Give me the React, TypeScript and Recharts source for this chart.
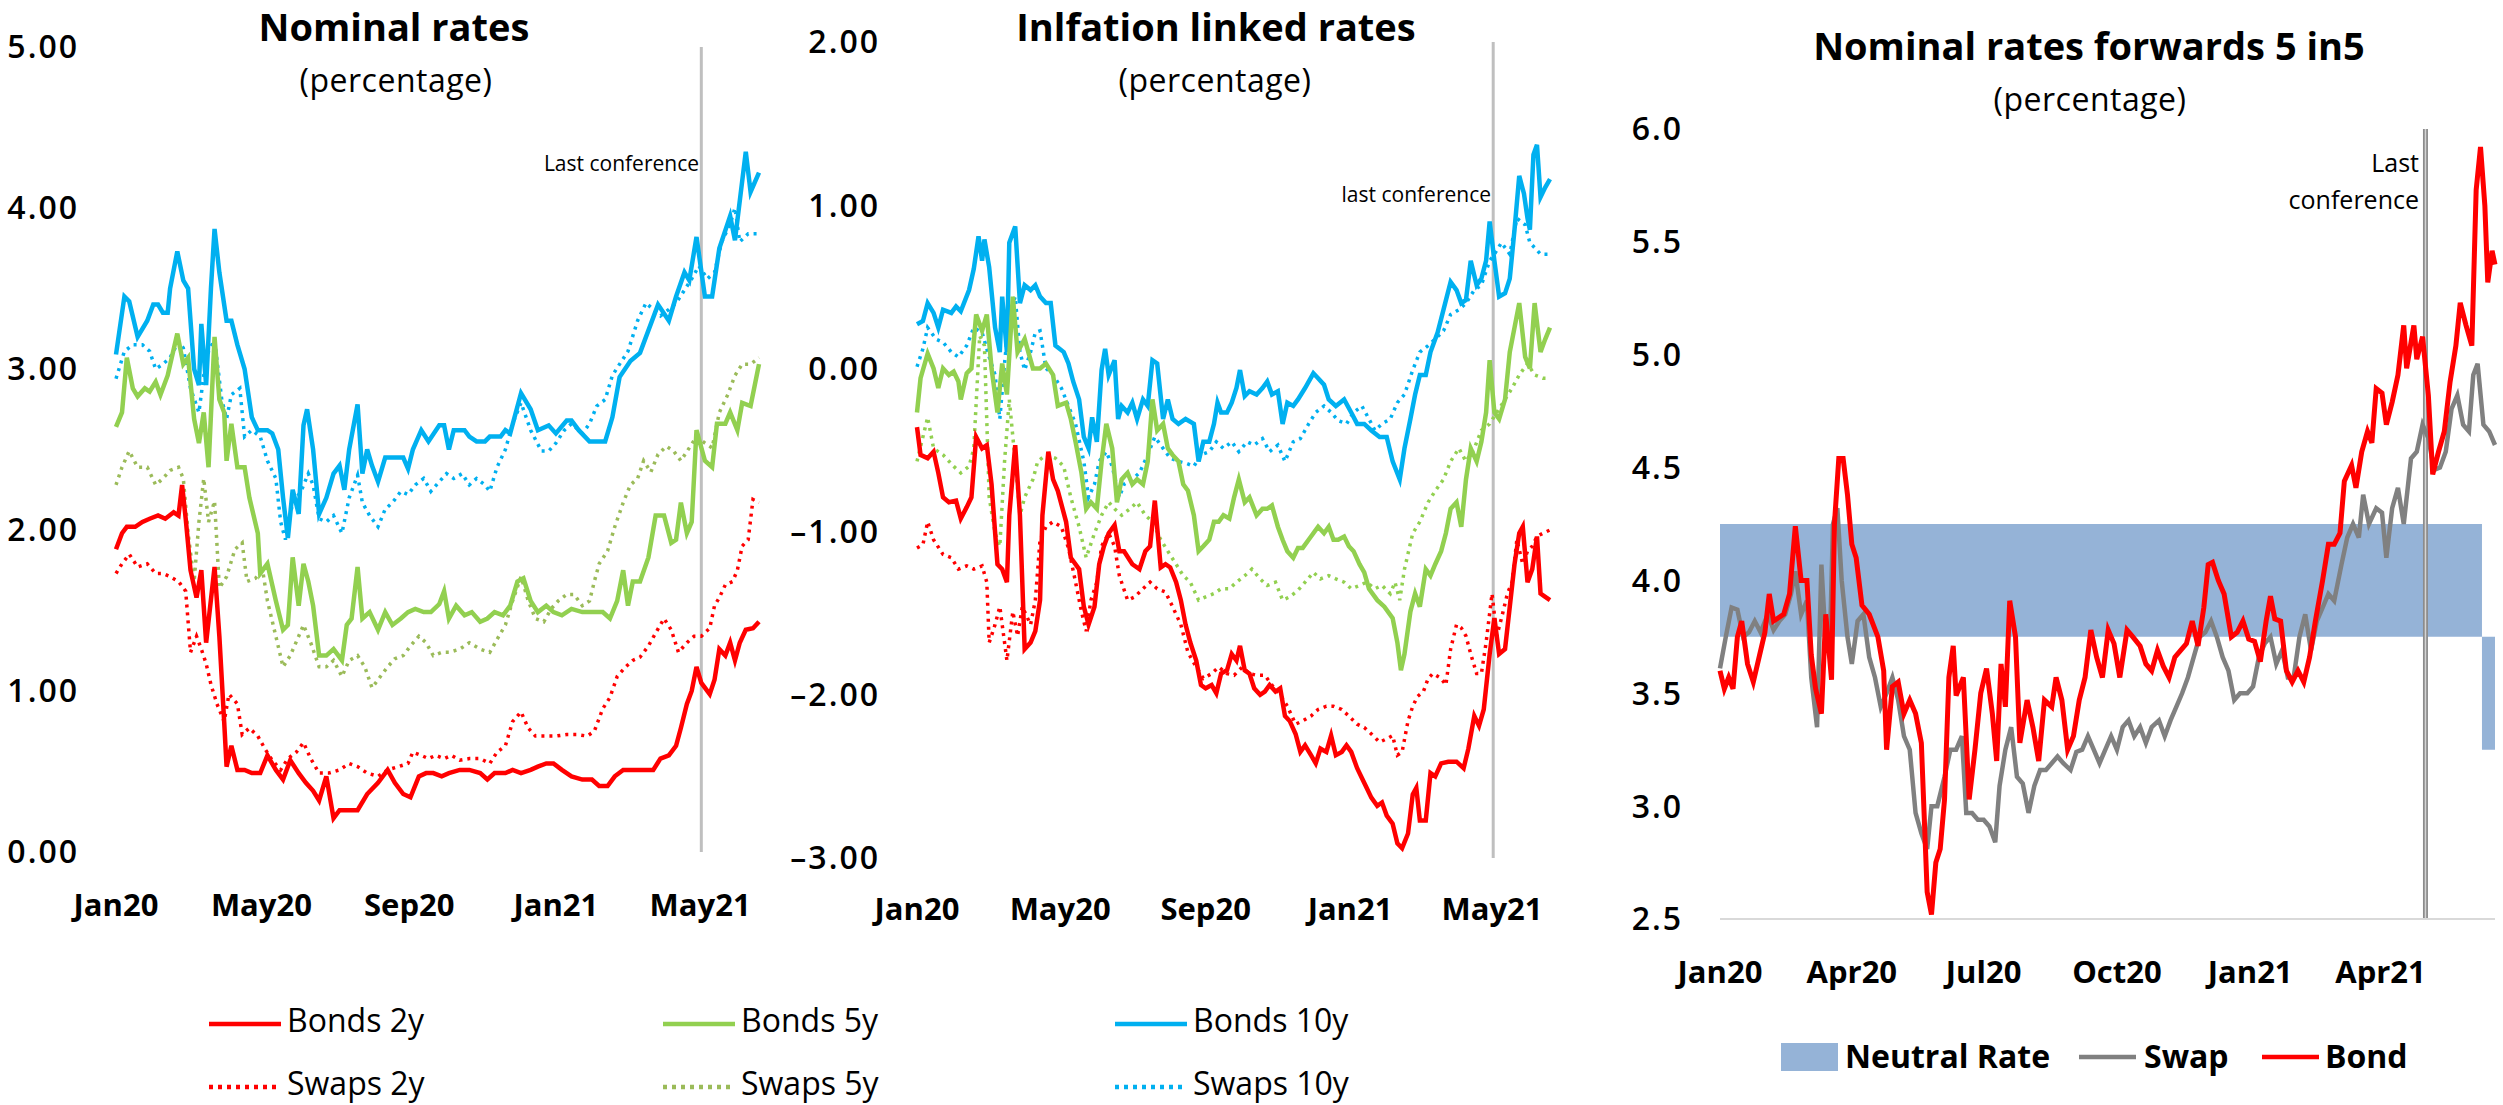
import React from 'react';
import { LineChart, ComposedChart, Line, Area, XAxis, YAxis, ReferenceLine } from 'recharts';

// x values are days counted from 1 Jan 2020
const lastConferenceDay = 487;
const endDay = 535;

const nomTickDays = [0, 121, 244, 366, 486];
const nomTickLabels = ['Jan20', 'May20', 'Sep20', 'Jan21', 'May21'];
const fwdTickDays = [0, 91, 182, 274, 366, 456];
const fwdTickLabels = ['Jan20', 'Apr20', 'Jul20', 'Oct20', 'Jan21', 'Apr21'];

const nominalYTicks = [0, 1, 2, 3, 4, 5];
const realYTicks = [-3, -2, -1, 0, 1, 2];
const fwdYTicks = [2.5, 3, 3.5, 4, 4.5, 5, 5.5, 6];

// ---- Nominal rates ----
const nomBonds10 = [[0,3.09],[7,3.45],[11,3.42],[18,3.2],[26,3.3],[31,3.4],[35,3.4],[39,3.35],[43,3.35],[45,3.5],[51,3.73],[56,3.55],[60,3.5],[65,3.0],[69,2.9],[71,3.28],[75,2.9],[79,3.5],[82,3.87],[86,3.6],[92,3.3],[96,3.3],[101,3.15],[107,3.0],[113,2.7],[118,2.62],[126,2.62],[130,2.6],[135,2.5],[139,2.2],[143,1.95],[147,2.25],[152,2.1],[156,2.65],[159,2.75],[164,2.5],[169,2.1],[175,2.2],[181,2.35],[186,2.4],[190,2.25],[194,2.5],[201,2.78],[205,2.35],[209,2.5],[213,2.4],[218,2.3],[224,2.45],[230,2.45],[239,2.45],[243,2.38],[247,2.5],[254,2.62],[260,2.55],[269,2.65],[273,2.65],[277,2.5],[281,2.62],[290,2.62],[294,2.58],[300,2.55],[307,2.55],[311,2.58],[320,2.58],[324,2.62],[328,2.6],[337,2.85],[345,2.75],[351,2.62],[360,2.65],[366,2.6],[375,2.68],[379,2.68],[385,2.62],[394,2.55],[407,2.55],[413,2.7],[419,2.95],[428,3.05],[436,3.1],[451,3.4],[460,3.3],[466,3.45],[473,3.6],[477,3.55],[483,3.82],[490,3.45],[496,3.45],[498,3.55],[502,3.75],[511,3.95],[515,3.8],[524,4.35],[528,4.1],[535,4.22]];
const nomSwaps10 = [[0,2.94],[7,3.11],[14,3.15],[22,3.15],[28,3.11],[33,3.0],[39,3.03],[45,3.07],[52,3.17],[56,3.13],[62,2.88],[69,2.73],[73,2.96],[77,3.11],[82,3.18],[88,2.81],[92,2.69],[96,2.84],[103,2.88],[107,2.58],[113,2.62],[120,2.58],[126,2.43],[133,2.32],[137,2.05],[141,1.94],[147,2.17],[154,2.24],[160,2.35],[164,2.28],[169,2.07],[175,2.05],[181,2.09],[188,1.98],[194,2.2],[201,2.34],[205,2.17],[211,2.09],[218,2.02],[224,2.13],[230,2.17],[237,2.24],[243,2.22],[249,2.28],[256,2.32],[262,2.24],[269,2.3],[275,2.35],[281,2.32],[288,2.35],[294,2.28],[300,2.32],[307,2.28],[311,2.24],[317,2.39],[324,2.5],[330,2.66],[337,2.79],[345,2.62],[354,2.49],[360,2.49],[366,2.54],[373,2.62],[379,2.66],[388,2.6],[394,2.66],[400,2.77],[407,2.81],[413,2.96],[419,3.03],[426,3.11],[434,3.3],[441,3.41],[447,3.37],[453,3.33],[460,3.37],[466,3.41],[473,3.49],[479,3.56],[485,3.64],[492,3.56],[498,3.6],[504,3.79],[511,3.9],[515,4.0],[519,3.79],[526,3.84],[535,3.84]];
const nomBonds5 = [[0,2.64],[5,2.73],[9,3.07],[14,2.88],[18,2.83],[24,2.88],[28,2.86],[33,2.92],[37,2.84],[43,2.96],[51,3.22],[56,3.03],[60,3.07],[65,2.69],[69,2.54],[73,2.73],[77,2.39],[82,3.2],[86,2.81],[90,2.73],[92,2.43],[96,2.66],[101,2.39],[107,2.39],[111,2.2],[118,1.98],[120,1.73],[126,1.79],[133,1.56],[139,1.38],[143,1.41],[147,1.83],[152,1.53],[156,1.79],[160,1.68],[164,1.53],[169,1.22],[175,1.22],[181,1.26],[188,1.19],[192,1.41],[196,1.45],[201,1.77],[205,1.45],[211,1.49],[218,1.38],[224,1.49],[230,1.41],[237,1.45],[243,1.49],[249,1.51],[256,1.49],[262,1.49],[269,1.54],[273,1.62],[277,1.45],[283,1.53],[290,1.47],[296,1.49],[303,1.43],[309,1.45],[315,1.49],[322,1.47],[328,1.53],[334,1.68],[339,1.7],[345,1.56],[351,1.49],[358,1.53],[364,1.49],[371,1.47],[379,1.51],[388,1.49],[396,1.49],[405,1.49],[411,1.45],[417,1.56],[422,1.75],[426,1.53],[430,1.68],[436,1.68],[443,1.83],[449,2.09],[456,2.09],[462,1.92],[466,1.94],[470,2.17],[475,1.98],[479,2.05],[483,2.62],[490,2.43],[496,2.39],[500,2.66],[507,2.66],[511,2.73],[517,2.62],[521,2.79],[528,2.77],[535,3.03]];
const nomSwaps5 = [[0,2.28],[5,2.39],[11,2.49],[18,2.39],[26,2.39],[33,2.28],[39,2.32],[45,2.37],[52,2.39],[56,2.32],[60,1.98],[65,1.68],[69,2.05],[73,2.32],[77,2.05],[82,2.18],[86,1.64],[92,1.71],[99,1.88],[105,1.92],[109,1.68],[116,1.7],[122,1.75],[126,1.56],[133,1.34],[139,1.15],[145,1.22],[152,1.34],[156,1.41],[162,1.3],[169,1.15],[175,1.15],[181,1.19],[188,1.09],[194,1.19],[201,1.22],[207,1.15],[213,1.02],[220,1.09],[226,1.15],[232,1.2],[239,1.22],[245,1.28],[252,1.34],[258,1.3],[264,1.22],[271,1.24],[277,1.24],[286,1.26],[294,1.3],[303,1.26],[311,1.24],[317,1.32],[324,1.41],[330,1.56],[337,1.71],[343,1.56],[349,1.45],[356,1.43],[362,1.51],[368,1.56],[375,1.6],[381,1.6],[388,1.53],[394,1.56],[398,1.68],[402,1.79],[409,1.87],[415,2.02],[422,2.17],[428,2.28],[434,2.32],[439,2.43],[445,2.36],[451,2.47],[458,2.52],[464,2.49],[470,2.43],[477,2.51],[483,2.58],[490,2.54],[496,2.51],[502,2.73],[509,2.84],[515,2.96],[521,3.03],[528,3.03],[535,3.07]];
const nomBonds2 = [[0,1.88],[5,1.98],[9,2.02],[16,2.02],[22,2.05],[28,2.07],[35,2.09],[41,2.07],[48,2.11],[52,2.09],[55,2.28],[58,2.07],[62,1.75],[67,1.58],[71,1.75],[75,1.3],[82,1.77],[86,1.34],[90,0.81],[92,0.53],[96,0.66],[101,0.51],[107,0.51],[113,0.49],[120,0.49],[126,0.6],[133,0.51],[139,0.45],[145,0.57],[152,0.49],[158,0.43],[164,0.38],[169,0.32],[175,0.47],[181,0.21],[186,0.26],[192,0.26],[201,0.26],[209,0.36],[218,0.43],[226,0.51],[232,0.43],[239,0.36],[245,0.34],[252,0.47],[258,0.49],[264,0.49],[271,0.47],[277,0.49],[286,0.51],[294,0.51],[303,0.49],[309,0.45],[315,0.49],[324,0.49],[330,0.51],[337,0.49],[345,0.51],[351,0.53],[358,0.55],[364,0.55],[371,0.51],[379,0.47],[388,0.45],[396,0.45],[402,0.41],[409,0.41],[415,0.47],[422,0.51],[428,0.51],[434,0.51],[441,0.51],[447,0.51],[453,0.58],[460,0.6],[466,0.66],[470,0.77],[475,0.92],[479,1.0],[483,1.15],[487,1.05],[494,0.98],[498,1.07],[502,1.26],[507,1.22],[511,1.3],[515,1.19],[519,1.3],[524,1.38],[530,1.39],[535,1.43]];
const nomSwaps2 = [[0,1.73],[5,1.79],[11,1.85],[18,1.77],[26,1.79],[33,1.73],[39,1.73],[45,1.71],[52,1.68],[58,1.62],[62,1.24],[67,1.34],[71,1.26],[75,1.17],[79,1.04],[84,0.92],[90,0.81],[94,0.98],[101,0.92],[105,0.73],[111,0.77],[118,0.72],[124,0.64],[130,0.57],[137,0.51],[143,0.58],[150,0.62],[156,0.68],[162,0.58],[169,0.49],[177,0.49],[186,0.51],[194,0.55],[201,0.53],[209,0.49],[218,0.47],[226,0.51],[235,0.53],[243,0.55],[247,0.62],[254,0.6],[260,0.58],[266,0.6],[273,0.58],[279,0.6],[286,0.57],[294,0.58],[303,0.58],[311,0.55],[317,0.62],[324,0.66],[330,0.81],[337,0.87],[343,0.77],[349,0.72],[358,0.72],[366,0.72],[375,0.73],[383,0.73],[392,0.72],[398,0.75],[405,0.89],[411,0.96],[417,1.09],[424,1.15],[430,1.19],[436,1.21],[443,1.28],[449,1.36],[456,1.45],[462,1.38],[468,1.24],[475,1.3],[481,1.34],[487,1.34],[494,1.39],[498,1.53],[502,1.58],[507,1.66],[513,1.68],[517,1.75],[521,1.9],[526,1.94],[530,2.19],[535,2.17]];

// ---- Inflation linked rates ----
const ilBonds10 = [[0,0.27],[5,0.29],[9,0.4],[14,0.34],[18,0.25],[22,0.36],[29,0.34],[33,0.38],[37,0.35],[44,0.48],[48,0.61],[52,0.81],[55,0.66],[57,0.79],[61,0.62],[66,0.25],[70,0.1],[72,0.44],[76,0.1],[78,0.77],[83,0.87],[87,0.4],[91,0.51],[96,0.48],[100,0.51],[104,0.44],[109,0.4],[113,0.4],[117,0.14],[124,0.1],[128,0.03],[132,-0.08],[137,-0.19],[141,-0.42],[145,-0.49],[148,-0.3],[152,-0.45],[156,-0.01],[159,0.12],[162,-0.04],[167,0.05],[170,-0.31],[173,-0.23],[178,-0.27],[182,-0.21],[186,-0.31],[191,-0.19],[195,-0.23],[199,0.05],[203,0.03],[208,-0.31],[212,-0.19],[216,-0.31],[221,-0.34],[227,-0.31],[234,-0.34],[238,-0.57],[242,-0.45],[247,-0.45],[251,-0.34],[254,-0.21],[257,-0.27],[262,-0.27],[266,-0.21],[270,-0.12],[273,-0.01],[277,-0.17],[281,-0.14],[287,-0.16],[292,-0.12],[296,-0.08],[300,-0.16],[305,-0.14],[309,-0.34],[313,-0.21],[318,-0.23],[322,-0.19],[328,-0.12],[335,-0.03],[339,-0.06],[344,-0.1],[348,-0.19],[354,-0.23],[361,-0.19],[367,-0.27],[372,-0.34],[378,-0.34],[384,-0.38],[391,-0.42],[397,-0.42],[402,-0.57],[408,-0.68],[412,-0.49],[417,-0.31],[421,-0.16],[425,-0.04],[430,-0.04],[434,0.1],[440,0.22],[445,0.36],[451,0.53],[456,0.48],[460,0.4],[464,0.42],[468,0.66],[473,0.51],[477,0.55],[481,0.66],[484,0.9],[488,0.66],[492,0.44],[497,0.46],[501,0.55],[505,0.85],[509,1.18],[513,1.07],[516,0.92],[518,0.85],[521,1.31],[524,1.37],[527,1.05],[531,1.11],[535,1.16]];
const ilSwaps10 = [[0,0.01],[5,0.12],[9,0.25],[16,0.18],[22,0.16],[29,0.1],[35,0.07],[42,0.14],[48,0.25],[55,0.22],[61,0.07],[66,-0.04],[70,-0.31],[74,0.03],[78,0.33],[83,0.44],[87,0.1],[91,-0.01],[96,0.1],[100,0.22],[104,0.23],[109,0.0],[115,-0.04],[122,-0.12],[128,-0.23],[134,-0.34],[141,-0.57],[145,-0.79],[150,-0.71],[154,-0.57],[160,-0.51],[165,-0.6],[171,-0.79],[175,-0.71],[182,-0.68],[188,-0.64],[195,-0.53],[201,-0.42],[208,-0.49],[214,-0.55],[221,-0.57],[227,-0.58],[234,-0.6],[240,-0.53],[247,-0.51],[253,-0.45],[259,-0.49],[266,-0.45],[272,-0.51],[279,-0.45],[285,-0.47],[292,-0.43],[298,-0.51],[305,-0.47],[311,-0.57],[318,-0.45],[324,-0.43],[331,-0.34],[337,-0.27],[344,-0.23],[350,-0.27],[356,-0.32],[363,-0.34],[369,-0.27],[376,-0.23],[382,-0.31],[387,-0.38],[393,-0.34],[400,-0.31],[406,-0.21],[412,-0.16],[419,-0.01],[425,0.1],[432,0.14],[438,0.18],[445,0.23],[451,0.33],[458,0.36],[464,0.4],[471,0.48],[477,0.51],[484,0.66],[488,0.7],[494,0.77],[501,0.7],[507,0.92],[514,0.88],[518,0.77],[522,0.74],[527,0.7],[531,0.7],[535,0.7]];
const ilBonds5 = [[0,-0.27],[3,-0.06],[9,0.09],[14,0.0],[18,-0.12],[22,0.0],[27,-0.04],[31,-0.02],[35,-0.08],[37,-0.19],[42,-0.03],[46,0.0],[50,0.33],[55,0.23],[59,0.33],[63,0.0],[68,-0.27],[72,0.03],[76,-0.16],[81,0.44],[85,0.1],[91,0.18],[98,0.0],[104,0.0],[109,0.03],[115,-0.04],[119,-0.23],[126,-0.21],[130,-0.31],[134,-0.45],[139,-0.64],[143,-0.86],[147,-0.82],[152,-0.86],[156,-0.57],[160,-0.34],[165,-0.49],[169,-0.82],[173,-0.68],[178,-0.64],[182,-0.71],[186,-0.68],[191,-0.71],[195,-0.57],[199,-0.19],[203,-0.38],[208,-0.34],[212,-0.49],[216,-0.53],[221,-0.57],[225,-0.71],[229,-0.75],[234,-0.9],[238,-1.12],[242,-1.09],[247,-1.05],[251,-0.94],[255,-0.94],[259,-0.9],[264,-0.92],[268,-0.79],[272,-0.68],[277,-0.82],[281,-0.79],[287,-0.9],[292,-0.86],[296,-0.86],[300,-0.84],[305,-0.97],[309,-1.05],[313,-1.12],[318,-1.16],[322,-1.1],[326,-1.1],[331,-1.05],[335,-1.01],[339,-0.97],[344,-1.01],[348,-0.97],[352,-1.05],[356,-1.05],[361,-1.03],[365,-1.09],[369,-1.12],[374,-1.2],[378,-1.25],[382,-1.35],[389,-1.42],[395,-1.46],[402,-1.53],[406,-1.68],[409,-1.85],[412,-1.75],[417,-1.49],[421,-1.38],[425,-1.46],[430,-1.23],[434,-1.27],[438,-1.2],[443,-1.12],[447,-1.01],[451,-0.86],[456,-0.82],[460,-0.97],[464,-0.68],[468,-0.49],[473,-0.57],[477,-0.45],[481,-0.27],[484,0.05],[488,-0.27],[492,-0.31],[497,-0.19],[501,0.1],[505,0.25],[509,0.4],[514,0.07],[518,0.0],[522,0.4],[527,0.1],[531,0.18],[535,0.25]];
const ilSwaps5 = [[0,-0.57],[5,-0.42],[9,-0.3],[14,-0.49],[22,-0.53],[31,-0.6],[37,-0.64],[44,-0.6],[48,-0.49],[53,0.2],[57,0.14],[61,-0.79],[66,-1.01],[70,-1.09],[74,-0.57],[78,-0.19],[83,-0.57],[87,-0.9],[91,-0.79],[98,-0.68],[102,-0.57],[109,-0.53],[117,-0.55],[124,-0.6],[130,-0.79],[137,-0.97],[143,-1.16],[150,-1.01],[156,-0.9],[162,-0.82],[167,-0.86],[173,-0.9],[180,-0.86],[186,-0.82],[193,-0.9],[199,-0.94],[206,-1.05],[212,-1.12],[219,-1.2],[225,-1.27],[231,-1.31],[238,-1.42],[244,-1.4],[251,-1.38],[257,-1.35],[264,-1.35],[270,-1.31],[277,-1.27],[283,-1.23],[290,-1.29],[296,-1.33],[303,-1.31],[309,-1.42],[315,-1.4],[322,-1.36],[328,-1.31],[335,-1.25],[341,-1.29],[348,-1.27],[354,-1.29],[361,-1.31],[367,-1.35],[374,-1.33],[380,-1.31],[387,-1.35],[393,-1.33],[400,-1.38],[404,-1.31],[408,-1.42],[412,-1.23],[419,-1.01],[425,-0.94],[432,-0.82],[438,-0.75],[445,-0.68],[451,-0.57],[458,-0.49],[464,-0.57],[471,-0.49],[477,-0.38],[484,-0.34],[490,-0.27],[497,-0.19],[503,-0.12],[509,-0.04],[516,0.03],[522,-0.04],[529,-0.06],[535,-0.06]];
const ilBonds2 = [[0,-0.36],[3,-0.53],[9,-0.55],[14,-0.51],[18,-0.64],[22,-0.79],[27,-0.82],[33,-0.81],[37,-0.92],[42,-0.85],[46,-0.79],[50,-0.42],[55,-0.49],[59,-0.47],[63,-0.71],[68,-1.2],[72,-1.23],[76,-1.31],[78,-0.9],[83,-0.47],[87,-0.9],[91,-1.72],[96,-1.68],[100,-1.61],[104,-1.42],[106,-0.9],[111,-0.51],[115,-0.68],[119,-0.75],[126,-0.94],[130,-1.16],[137,-1.23],[141,-1.46],[145,-1.57],[150,-1.46],[154,-1.2],[158,-1.09],[162,-1.01],[167,-0.96],[171,-1.12],[175,-1.12],[182,-1.2],[188,-1.23],[193,-1.12],[197,-1.09],[201,-0.81],[206,-1.22],[210,-1.2],[214,-1.22],[219,-1.31],[223,-1.42],[227,-1.57],[231,-1.68],[236,-1.79],[240,-1.94],[244,-1.96],[249,-1.94],[253,-1.99],[257,-1.87],[262,-1.85],[266,-1.75],[270,-1.79],[273,-1.7],[277,-1.85],[281,-1.87],[285,-1.96],[290,-2.0],[294,-1.98],[298,-1.94],[303,-1.98],[307,-1.96],[311,-2.13],[315,-2.16],[320,-2.24],[324,-2.35],[328,-2.31],[333,-2.37],[337,-2.42],[341,-2.33],[346,-2.35],[350,-2.25],[354,-2.37],[359,-2.35],[363,-2.31],[367,-2.35],[372,-2.45],[376,-2.51],[380,-2.57],[384,-2.63],[389,-2.68],[393,-2.66],[397,-2.74],[402,-2.79],[406,-2.91],[410,-2.94],[415,-2.85],[419,-2.61],[422,-2.57],[425,-2.77],[430,-2.77],[434,-2.48],[438,-2.5],[443,-2.42],[449,-2.41],[456,-2.41],[462,-2.45],[466,-2.33],[471,-2.13],[475,-2.19],[479,-2.09],[484,-1.75],[488,-1.53],[492,-1.75],[497,-1.72],[501,-1.46],[505,-1.2],[509,-1.01],[512,-0.97],[516,-1.31],[520,-1.23],[524,-1.03],[527,-1.38],[531,-1.4],[535,-1.42]];
const ilSwaps2 = [[0,-1.1],[5,-1.08],[9,-0.94],[14,-1.05],[22,-1.14],[29,-1.16],[35,-1.23],[42,-1.21],[48,-1.23],[55,-1.21],[59,-1.31],[61,-1.68],[66,-1.57],[70,-1.46],[74,-1.68],[76,-1.79],[81,-1.49],[85,-1.64],[89,-1.46],[96,-1.57],[100,-1.42],[104,-1.05],[109,-0.97],[115,-0.94],[122,-0.97],[128,-1.1],[134,-1.31],[139,-1.49],[143,-1.61],[147,-1.42],[152,-1.31],[156,-1.09],[162,-1.01],[167,-1.09],[171,-1.27],[178,-1.42],[184,-1.4],[191,-1.35],[197,-1.31],[203,-1.35],[210,-1.37],[216,-1.46],[223,-1.57],[229,-1.74],[236,-1.83],[242,-1.9],[249,-1.87],[255,-1.83],[262,-1.87],[268,-1.88],[275,-1.83],[281,-1.87],[287,-1.88],[294,-1.88],[300,-1.94],[307,-2.0],[313,-2.07],[320,-2.18],[326,-2.16],[333,-2.13],[339,-2.09],[346,-2.07],[352,-2.07],[359,-2.09],[365,-2.13],[372,-2.18],[378,-2.2],[384,-2.24],[391,-2.29],[397,-2.27],[402,-2.25],[406,-2.37],[410,-2.35],[415,-2.16],[419,-2.07],[423,-2.01],[428,-1.98],[432,-1.9],[436,-1.87],[443,-1.9],[447,-1.94],[451,-1.72],[456,-1.57],[460,-1.59],[464,-1.64],[468,-1.75],[473,-1.87],[477,-1.87],[481,-1.68],[486,-1.38],[490,-1.64],[494,-1.53],[499,-1.38],[503,-1.31],[507,-1.05],[512,-1.2],[516,-1.12],[520,-1.09],[524,-1.03],[529,-1.01],[535,-0.99]];

// ---- Nominal forwards 5 in 5 ----
const fwdBond = [[0,3.6],[3,3.52],[6,3.57],[9,3.52],[12,3.75],[15,3.82],[19,3.63],[23,3.55],[27,3.66],[31,3.77],[34,3.94],[37,3.82],[44,3.85],[48,3.94],[52,4.24],[56,4.0],[60,4.0],[63,3.67],[66,3.52],[70,3.41],[73,3.85],[77,3.56],[79,4.25],[82,4.54],[85,4.54],[88,4.38],[91,4.16],[94,4.1],[98,3.89],[103,3.85],[109,3.75],[113,3.6],[115,3.25],[119,3.53],[123,3.55],[127,3.41],[131,3.47],[135,3.41],[139,3.28],[143,2.62],[146,2.52],[149,2.75],[152,2.81],[155,3.03],[158,3.57],[161,3.71],[163,3.49],[168,3.57],[172,3.03],[176,3.25],[180,3.5],[184,3.61],[188,3.41],[191,3.2],[194,3.63],[197,3.44],[200,3.91],[204,3.75],[207,3.28],[212,3.47],[216,3.35],[220,3.2],[224,3.47],[229,3.44],[232,3.57],[236,3.47],[240,3.25],[244,3.31],[248,3.47],[252,3.57],[256,3.78],[260,3.66],[264,3.57],[268,3.78],[272,3.72],[276,3.57],[281,3.78],[285,3.75],[290,3.71],[294,3.63],[298,3.6],[302,3.69],[306,3.62],[310,3.57],[314,3.66],[318,3.69],[322,3.72],[326,3.82],[330,3.71],[334,3.88],[337,4.07],[340,4.08],[344,4.0],[348,3.94],[353,3.75],[357,3.77],[361,3.82],[365,3.74],[369,3.73],[373,3.64],[377,3.82],[380,3.93],[383,3.83],[387,3.82],[391,3.6],[395,3.55],[399,3.6],[403,3.55],[407,3.66],[411,3.82],[416,4.0],[420,4.16],[424,4.16],[428,4.21],[431,4.44],[436,4.51],[439,4.41],[443,4.57],[447,4.66],[450,4.61],[453,4.85],[457,4.83],[460,4.69],[464,4.79],[468,4.91],[472,5.13],[474,4.94],[479,5.13],[481,4.98],[485,5.08],[489,4.82],[492,4.47],[496,4.57],[500,4.66],[504,4.88],[508,5.04],[511,5.23],[515,5.13],[519,5.04],[522,5.73],[525,5.92],[528,5.66],[530,5.32],[533,5.46],[535,5.4]];
const fwdSwap = [[0,3.61],[4,3.75],[8,3.88],[12,3.87],[16,3.75],[20,3.77],[24,3.82],[28,3.77],[33,3.85],[37,3.78],[41,3.82],[45,3.85],[49,3.94],[52,4.04],[56,3.85],[60,3.91],[63,3.57],[67,3.35],[70,4.07],[73,3.72],[76,3.75],[78,4.25],[81,4.32],[84,4.0],[88,3.75],[91,3.63],[95,3.82],[99,3.85],[103,3.66],[107,3.57],[111,3.44],[115,3.5],[119,3.57],[123,3.47],[127,3.31],[131,3.25],[135,2.97],[139,2.88],[143,2.81],[146,3.0],[150,3.0],[155,3.13],[159,3.25],[163,3.25],[167,3.31],[170,2.97],[174,2.97],[178,2.94],[182,2.94],[186,2.91],[190,2.84],[193,3.09],[197,3.25],[201,3.35],[205,3.13],[209,3.1],[213,2.97],[217,3.09],[221,3.16],[225,3.16],[229,3.19],[233,3.22],[237,3.19],[242,3.16],[246,3.24],[250,3.25],[254,3.31],[258,3.25],[262,3.19],[266,3.25],[270,3.31],[274,3.25],[278,3.35],[282,3.38],[286,3.31],[290,3.35],[294,3.28],[298,3.35],[303,3.38],[307,3.31],[311,3.38],[315,3.44],[319,3.5],[323,3.57],[327,3.66],[331,3.75],[335,3.77],[339,3.82],[343,3.75],[347,3.66],[351,3.6],[355,3.47],[359,3.5],[364,3.5],[368,3.53],[372,3.66],[376,3.72],[380,3.75],[384,3.63],[388,3.69],[392,3.57],[396,3.57],[400,3.75],[404,3.85],[408,3.69],[412,3.82],[416,3.88],[420,3.94],[424,3.91],[429,4.07],[433,4.19],[437,4.25],[441,4.19],[444,4.38],[448,4.25],[453,4.32],[457,4.3],[460,4.1],[464,4.32],[468,4.41],[472,4.25],[477,4.54],[481,4.57],[485,4.69],[489,4.63],[493,4.49],[497,4.5],[501,4.57],[505,4.76],[509,4.82],[513,4.69],[517,4.66],[520,4.91],[523,4.96],[527,4.69],[531,4.66],[535,4.6]];
// neutral rate range: [day, low, high]
const neutralRate = [[0,3.75,4.25],[526,3.75,4.25],[526,3.25,3.75],[535,3.25,3.75]];

const RED = '#ff0000';
const GREEN = '#92d050';
const GREEN_DOT = '#9bbb59';
const BLUE = '#00b0f0';
const GREY = '#808080';
const BAND = '#95b3d7';
const FONT = '"Open Sans", "DejaVu Sans", sans-serif';

const yTick = { fontSize: 32, fill: '#000', fontFamily: FONT, fontWeight: 600, letterSpacing: 2 };
const xTick = { fontSize: 31, fill: '#000', fontFamily: FONT, fontWeight: 700 };

const pts = (arr: number[][]) => arr.map(([d, v]) => ({ d, v }));

const series = (key: string, arr: number[][], color: string, dotted: boolean, width = 4.5) => (
  <Line
    key={key}
    data={pts(arr)}
    dataKey="v"
    type="linear"
    stroke={color}
    strokeWidth={dotted ? 3.5 : width}
    strokeDasharray={dotted ? '3 5' : undefined}
    dot={false}
    activeDot={false}
    isAnimationActive={false}
  />
);

const labelFor = (days: number[], labels: string[]) => (d: number) => labels[days.indexOf(d)] ?? '';
const fmt = (digits: number) => (v: number) => (v < 0 ? '\u2013' + Math.abs(v).toFixed(digits) : v.toFixed(digits));

const legendItems = [
  { label: 'Bonds 2y', color: RED, dotted: false },
  { label: 'Bonds 5y', color: GREEN, dotted: false },
  { label: 'Bonds 10y', color: BLUE, dotted: false },
  { label: 'Swaps 2y', color: RED, dotted: true },
  { label: 'Swaps 5y', color: GREEN_DOT, dotted: true },
  { label: 'Swaps 10y', color: BLUE, dotted: true },
];
const legendCols = [209, 663, 1115];
const legendRows = [1032, 1095];

const Overlay = () => (
  <svg width={2503} height={1105} style={{ position: 'absolute', left: 0, top: 0, pointerEvents: 'none' }} fontFamily={FONT}>
    <text x={394} y={41} textAnchor="middle" fontSize={38} fontWeight={700}>Nominal rates</text>
    <text x={396} y={92} textAnchor="middle" fontSize={32} letterSpacing={0.5}>(percentage)</text>
    <text x={1216} y={41} textAnchor="middle" fontSize={38} fontWeight={700}>Inlfation linked rates</text>
    <text x={1215} y={92} textAnchor="middle" fontSize={32} letterSpacing={0.5}>(percentage)</text>
    <text x={2089} y={60} textAnchor="middle" fontSize={38} fontWeight={700}>Nominal rates forwards 5 in5</text>
    <text x={2090} y={111} textAnchor="middle" fontSize={32} letterSpacing={0.5}>(percentage)</text>

    <text x={699} y={171} textAnchor="end" fontSize={21}>Last conference</text>
    <text x={1491} y={202} textAnchor="end" fontSize={21}>last conference</text>
    <text x={2419} y={172} textAnchor="end" fontSize={25}>Last</text>
    <text x={2419} y={209} textAnchor="end" fontSize={25}>conference</text>

    {legendItems.map((it, i) => {
      const x = legendCols[i % 3];
      const y = legendRows[Math.floor(i / 3)];
      return (
        <g key={it.label}>
          <line x1={x} x2={x + 72} y1={y - 8} y2={y - 8} stroke={it.color} strokeWidth={4.5}
            strokeDasharray={it.dotted ? '4 5' : undefined} />
          <text x={x + 78} y={y} fontSize={32}>{it.label}</text>
        </g>
      );
    })}

    <rect x={1781} y={1043} width={57} height={28} fill={BAND} />
    <text x={1845} y={1068} fontSize={32} fontWeight={700}>Neutral Rate</text>
    <line x1={2079} x2={2136} y1={1057} y2={1057} stroke={GREY} strokeWidth={4.5} />
    <text x={2144} y={1068} fontSize={32} fontWeight={700}>Swap</text>
    <line x1={2262} x2={2319} y1={1057} y2={1057} stroke={RED} strokeWidth={4.5} />
    <text x={2325} y={1068} fontSize={32} fontWeight={700}>Bond</text>
  </svg>
);

const App = () => {
  const bandRows = neutralRate.map(([d, lo, hi]) => ({ d, r: [lo, hi] }));
  return (
    <div style={{ position: 'absolute', left: 0, top: 0, width: 2503, height: 1105, background: '#fff', overflow: 'hidden', fontFamily: FONT }}>
      <div style={{ position: 'absolute', left: 0, top: 0 }}>
        <LineChart width={780} height={950} margin={{ top: 47, right: 21, bottom: 38, left: 0 }}>
          <XAxis type="number" dataKey="d" domain={[0, endDay]} ticks={nomTickDays} tickFormatter={labelFor(nomTickDays, nomTickLabels)}
            axisLine={false} tickLine={false} tickSize={0} tickMargin={42} height={60} tick={xTick} interval={0} />
          <YAxis type="number" domain={[0, 5]} ticks={nominalYTicks} tickFormatter={fmt(2)} axisLine={false} tickLine={false}
            tickSize={0} tickMargin={37} width={116} tick={yTick} interval={0} />
          <ReferenceLine x={lastConferenceDay} stroke="#bfbfbf" strokeWidth={3} />
          {series('s10', nomSwaps10, BLUE, true)}
          {series('s5', nomSwaps5, GREEN_DOT, true)}
          {series('s2', nomSwaps2, RED, true)}
          {series('b10', nomBonds10, BLUE, false)}
          {series('b5', nomBonds5, GREEN, false)}
          {series('b2', nomBonds2, RED, false)}
        </LineChart>
      </div>

      <div style={{ position: 'absolute', left: 760, top: 0 }}>
        <LineChart width={801} height={950} margin={{ top: 42, right: 11, bottom: 32, left: 0 }}>
          <XAxis type="number" dataKey="d" domain={[0, endDay]} ticks={nomTickDays} tickFormatter={labelFor(nomTickDays, nomTickLabels)}
            axisLine={false} tickLine={false} tickSize={0} tickMargin={40} height={60} tick={xTick} interval={0} />
          <YAxis type="number" domain={[-3, 2]} ticks={realYTicks} tickFormatter={fmt(2)} axisLine={false} tickLine={false}
            tickSize={0} tickMargin={37} width={157} tick={yTick} interval={0} />
          <ReferenceLine x={lastConferenceDay} stroke="#bfbfbf" strokeWidth={3} />
          {series('s10', ilSwaps10, BLUE, true)}
          {series('s5', ilSwaps5, GREEN, true)}
          {series('s2', ilSwaps2, RED, true)}
          {series('b10', ilBonds10, BLUE, false)}
          {series('b5', ilBonds5, GREEN, false)}
          {series('b2', ilBonds2, RED, false)}
        </LineChart>
      </div>

      <div style={{ position: 'absolute', left: 1604, top: 0 }}>
        <ComposedChart width={899} height={1000} data={bandRows} margin={{ top: 129, right: 8, bottom: 11, left: 0 }}>
          <XAxis type="number" dataKey="d" domain={[0, endDay]} ticks={fwdTickDays} tickFormatter={labelFor(fwdTickDays, fwdTickLabels)}
            axisLine={{ stroke: '#d9d9d9', strokeWidth: 2 }} tickLine={false} tickSize={0} tickMargin={42} height={70} tick={xTick} interval={0} />
          <YAxis type="number" domain={[2.5, 6]} ticks={fwdYTicks} tickFormatter={fmt(1)} axisLine={false} tickLine={false}
            tickSize={0} tickMargin={37} width={116} tick={yTick} interval={0} />
          <Area dataKey="r" type="linear" fill={BAND} fillOpacity={1} stroke="none" isAnimationActive={false} />
          <ReferenceLine x={lastConferenceDay} stroke="#8c8c8c" strokeWidth={5} />
          <ReferenceLine x={lastConferenceDay} stroke="#d4d4d4" strokeWidth={1.5} />
          {series('swap', fwdSwap, GREY, false, 4.5)}
          {series('bond', fwdBond, RED, false, 5)}
        </ComposedChart>
      </div>

      <Overlay />
    </div>
  );
};

export default App;
